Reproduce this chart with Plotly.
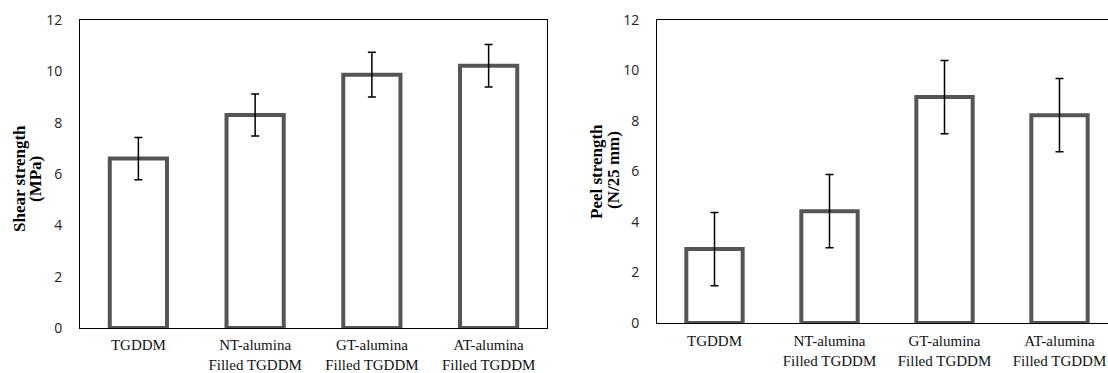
import plotly.graph_objects as go

categories = ["TGDDM", "NT-alumina<br>Filled TGDDM", "GT-alumina<br>Filled TGDDM", "AT-alumina<br>Filled TGDDM"]
shear_values = [6.6, 8.3, 9.87, 10.22]
shear_errors = [0.82, 0.82, 0.87, 0.83]
peel_values = [2.93, 4.43, 8.95, 8.23]
peel_errors = [1.45, 1.45, 1.45, 1.45]
y_ticks = [0, 2, 4, 6, 8, 10, 12]

W, H = 1108, 373
BAR_LINE = "#555555"

def px_x(v):
    return v / W

def px_y(v):
    return (H - v) / H

fig = go.Figure()

for vals, errs, xa, ya in [(shear_values, shear_errors, "x", "y"),
                            (peel_values, peel_errors, "x2", "y2")]:
    fig.add_trace(go.Bar(
        x=categories, y=vals, xaxis=xa, yaxis=ya,
        marker=dict(color="white", line=dict(color=BAR_LINE, width=4)),
        error_y=dict(type="data", array=errs, visible=True, color="black", thickness=1.5, width=4),
        showlegend=False,
    ))

tickfont_num = dict(family="Open Sans", size=14, color="#222222")
tickfont_cat = dict(family="Liberation Serif", size=15, color="#111111")

fig.update_layout(
    width=W, height=H,
    margin=dict(l=0, r=0, t=0, b=0, autoexpand=False),
    paper_bgcolor="white", plot_bgcolor="white",
    bargap=0.51,
    xaxis=dict(domain=[px_x(80), px_x(547)], range=[-0.5, 3.5], type="category",
               showline=True, linecolor="black", linewidth=1, mirror=True,
               showgrid=False, ticks="", tickfont=tickfont_cat, ticklabelstandoff=3,
               anchor="y", automargin=False),
    yaxis=dict(domain=[px_y(328), px_y(20)], range=[0, 12], tickvals=y_ticks,
               showline=True, linecolor="black", linewidth=1, mirror=True,
               showgrid=False, zeroline=False, ticks="", tickfont=tickfont_num,
               ticklabelstandoff=14, anchor="x", automargin=False),
    xaxis2=dict(domain=[px_x(657), 1.0], range=[-0.5, -0.5 + 451 / 115], type="category",
                showline=True, linecolor="black", linewidth=1, mirror=True,
                showgrid=False, ticks="", tickfont=tickfont_cat, ticklabelstandoff=4,
                anchor="y2", automargin=False),
    yaxis2=dict(domain=[px_y(323), px_y(20)], range=[0, 12], tickvals=y_ticks,
                showline=True, linecolor="black", linewidth=1, mirror=False,
                showgrid=False, zeroline=False, ticks="", tickfont=tickfont_num,
                ticklabelstandoff=14, anchor="x2", automargin=False),
)

title_font = dict(family="Liberation Serif", size=17, color="black")
annots = [
    ("<b>Shear strength</b>", 19, 179),
    ("<b>(MPa)</b>", 35, 179),
    ("<b>Peel strength</b>", 596, 172),
    ("<b>(N/25 mm)</b>", 613, 170),
]
for txt, xp, yp in annots:
    fig.add_annotation(text=txt, xref="paper", yref="paper", x=px_x(xp), y=px_y(yp),
                       xanchor="center", yanchor="middle", textangle=-90,
                       showarrow=False, font=title_font)

fig.write_html("out.html")
